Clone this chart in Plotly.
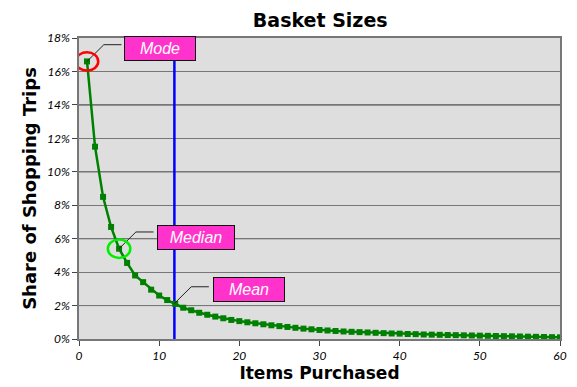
import plotly.graph_objects as go

items = list(range(1, 61))
share = [16.6, 11.5, 8.5, 6.7, 5.4, 4.55, 3.8, 3.4, 2.95, 2.6,
         2.33, 2.1, 1.87, 1.72, 1.57, 1.45, 1.34, 1.24, 1.14, 1.07,
         1.0, 0.94, 0.88, 0.82, 0.77, 0.72, 0.67, 0.62, 0.58, 0.54,
         0.51, 0.48, 0.45, 0.43, 0.41, 0.39, 0.37, 0.35, 0.33, 0.32,
         0.30, 0.29, 0.27, 0.26, 0.25, 0.24, 0.23, 0.22, 0.21, 0.20,
         0.19, 0.18, 0.17, 0.16, 0.15, 0.14, 0.13, 0.12, 0.11, 0.10]
mean_items = 11.9
median_items = 5
mode_items = 1
labels = ["Mode", "Median", "Mean"]
dark_grid = [2, 6, 10, 14]

def share_at(x):
    i = int(x) - 1
    f = x - int(x)
    if i + 1 < len(share):
        return share[i] + (share[i + 1] - share[i]) * f
    return share[i]

fig = go.Figure()

for g in dark_grid:
    fig.add_shape(type="line", xref="paper", yref="y", x0=0, x1=1, y0=g, y1=g,
                  line=dict(color="#111111", width=1), layer="below")

fig.add_trace(go.Scatter(x=[mean_items, mean_items], y=[0, 18], mode="lines",
                         line=dict(color="#0000ff", width=2.5), showlegend=False,
                         hoverinfo="skip"))
fig.add_trace(go.Scatter(x=items, y=share, mode="lines+markers",
                         line=dict(color="#008000", width=2.5),
                         marker=dict(symbol="square", size=6, color="#008000"),
                         showlegend=False))

points = [(mode_items, share_at(mode_items)),
          (median_items, share_at(median_items)),
          (mean_items, share_at(mean_items))]
box_off = [(9.1, 0.76), (9.6, 0.65), (9.3, 0.86)]
box_w = [70, 76, 70]

for (px, py), (dx, dy), lab, w in zip(points, box_off, labels, box_w):
    fig.add_trace(go.Scatter(x=[px, px + 2.1, px + 4.3], y=[py, py + 1.0, py + 1.0],
                             mode="lines", line=dict(color="#222222", width=1),
                             showlegend=False, hoverinfo="skip"))
    fig.add_annotation(x=px + dx, y=py + dy, text=lab, showarrow=False,
                       font=dict(family="Liberation Sans, Arial", size=16, color="white",
                                 style="italic"),
                       bgcolor="#ff33cc", bordercolor="#111111", borderwidth=1,
                       borderpad=0, width=w, height=23)

circ = [(points[0], "#ff0000"), (points[1], "#00ee00")]
for (px, py), c in circ:
    fig.add_shape(type="circle", xref="x", yref="y",
                  x0=px - 1.4, x1=px + 1.4, y0=py - 0.55, y1=py + 0.55,
                  line=dict(color=c, width=2.5))

fig.update_layout(
    width=577, height=387,
    margin=dict(l=79, r=10, t=38, b=48),
    paper_bgcolor="white", plot_bgcolor="#dedede",
    title=dict(text="<b>Basket Sizes</b>", x=0.555, xanchor="center", y=0.948,
               yanchor="middle", font=dict(family="DejaVu Sans", size=19, color="black")),
    font=dict(family="Lato", color="black"),
)
fig.update_xaxes(range=[0, 60], dtick=10, tick0=0, showgrid=False, zeroline=False,
                 ticks="outside", ticklen=5, tickcolor="#444", showline=True,
                 linecolor="#777", linewidth=1.5, mirror=True,
                 tickfont=dict(family="Lato", size=12, style="italic"),
                 title=dict(text="<b>Items Purchased</b>", standoff=2,
                            font=dict(family="DejaVu Sans", size=17)))
fig.update_yaxes(range=[0, 18], dtick=2, tick0=0, ticksuffix="%", showgrid=True,
                 gridcolor="#777777", gridwidth=1, zeroline=False,
                 ticks="outside", ticklen=5, tickcolor="#444", showline=True,
                 linecolor="#777", linewidth=1.5, mirror=True,
                 tickfont=dict(family="Lato", size=12, style="italic"),
                 title=dict(text="<b>Share of Shopping Trips</b>", standoff=6,
                            font=dict(family="DejaVu Sans", size=18)))

fig.write_html("out.html")
